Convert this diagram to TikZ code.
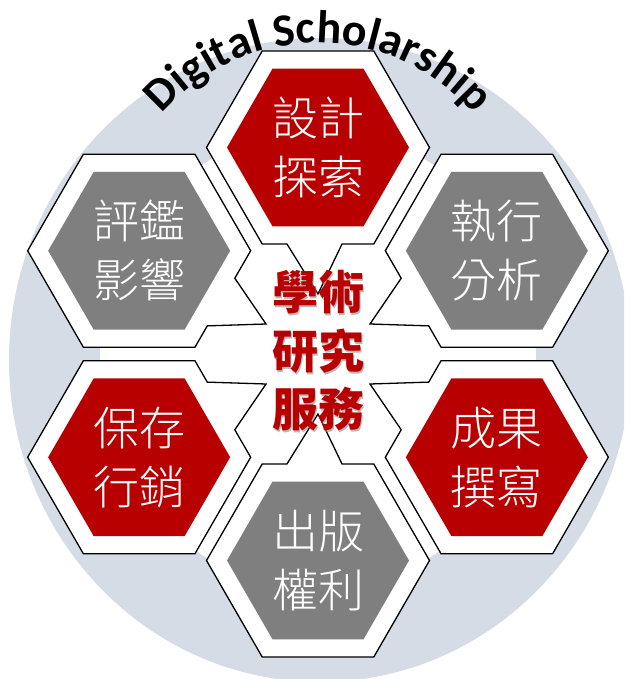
\documentclass[tikz,border=0pt]{standalone}
\usepackage{fontspec}
\usetikzlibrary{decorations.text}
\newfontfamily\cjk{Noto Sans CJK TC}
\newfontfamily\cjklight{Noto Sans CJK TC Light}
\newfontfamily\arcfont{Carlito}
\definecolor{bluegray}{RGB}{214,220,229}
\definecolor{hexred}{RGB}{185,0,0}
\definecolor{hexgray}{RGB}{127,127,127}
\tikzset{shell/.style={fill=white,draw=black,line width=1.3pt},
         celltext/.style={text=white,font=\cjklight\fontsize{46}{59}\selectfont,align=center,inner sep=0pt},
         hubtext/.style={text=hexred,font=\cjk\bfseries\fontsize{46}{58.5}\selectfont,align=center,inner sep=0pt}}

\begin{document}
\begin{tikzpicture}[x=1pt,y=1pt]
                  \useasboundingbox (-318,-325) rectangle (306,354);
                  \clip (-318,-325) rectangle (306,354);
                  \fill[bluegray] (2,-6) ellipse [x radius=311, y radius=322];
                  \fill[white] (0,-6) ellipse [x radius=218, y radius=230];
                  \foreach \ang/\fx/\fy/\rot/\col/\lineA/\lineB [count=\i] in
                    {90/1/1/0/hexred/設計/探索, 30/-1/1/60/hexgray/執行/分析,
                     -30/-1/-1/60/hexred/成果/撰寫, -90/1/-1/0/hexgray/出版/權利,
                     -150/1/-1/60/hexred/保存/行銷, 150/1/1/60/hexgray/評鑑/影響}{
                    \begin{scope}[shift={(\ang:206.5)},xscale=\fx,yscale=\fy,rotate=\rot]
                      \draw[shell] (0:111.5) -- (60:111.5) -- (120:111.5) -- (180:111.5) -- (240:111.5)
                        -- (-31,-96.56) -- (0,-146.5) -- (24,-96.56) -- (300:111.5) -- cycle;
                      \fill[\col] (0:91) \foreach \k in {1,...,5}{ -- (\k*60:91)} -- cycle;
                    \end{scope}
                    \node[celltext] (cell\i) at (\ang:206.5) {\lineA\\\lineB};
                  }
                  \node[hubtext,text=black!45,opacity=.6] (hubshadow) at (1.8,1.2) {學術\\研究\\服務};
                  \node[hubtext] (hub) at (0,3) {學術\\研究\\服務};
                  \path[decorate,decoration={text along path,text align=center,
                      text={|\arcfont\bfseries\fontsize{46}{46}\selectfont|Digital Scholarship}}]
                    (0,104) ++(141:207) arc[start angle=141,end angle=39,radius=207];
              \end{tikzpicture}
\end{document}
